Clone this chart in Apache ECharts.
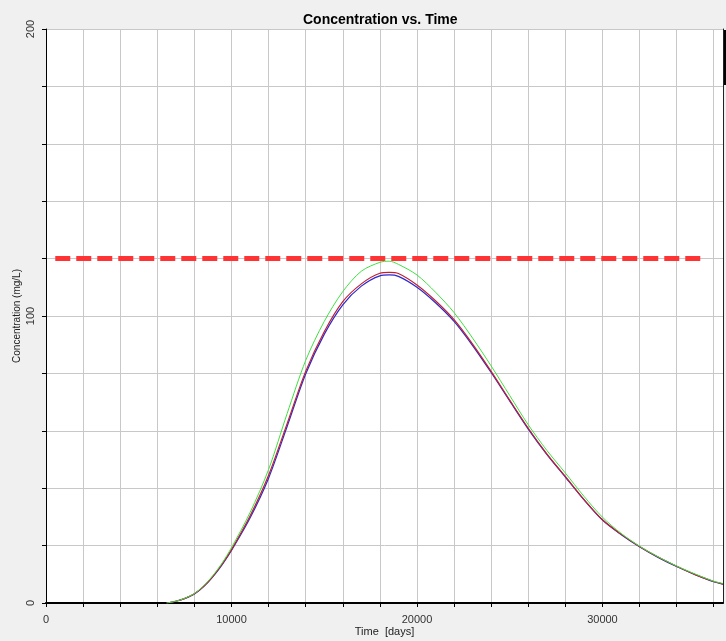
<!DOCTYPE html>
<html>
<head>
<meta charset="utf-8">
<script src="https://cdn.jsdelivr.net/npm/echarts@6/dist/echarts.min.js"></script>
<style>
    html, body { margin: 0; padding: 0; background: #f0f0f0; }
    #chart { width: 726px; height: 641px; }
</style>
</head>
<body>
<div id="chart"></div>
<script>
    // time axis (days)
    var times = [6500, 7000, 7500, 8000, 8500, 9000, 9500, 10000, 11000, 12000, 13000, 14000, 15000,
        16000, 17000, 18000, 18500, 19000, 20000, 21000, 22000, 23000, 24000, 25000, 26000, 27000, 28000,
        29000, 30000, 31000, 32000, 33000, 34000, 35000, 36000, 36500];
    // concentration (mg/L) for each run
    var blueVals = [0, 0.6, 1.6, 3.1, 5.7, 9.2, 13.4, 18.3, 29.6, 43.5, 61.5, 79.8, 93.6,
        103.9, 110.4, 114.0, 114.3, 113.8, 110.0, 104.6, 98.1, 89.7, 80.3, 70.4, 60.6, 51.8, 43.9,
        36.0, 28.9, 23.9, 19.6, 15.9, 12.7, 9.9, 7.4, 6.6];
    var redVals = [0, 0.6, 1.6, 3.2, 5.8, 9.3, 13.6, 18.6, 30.3, 44.5, 62.5, 80.7, 94.5,
        105.0, 111.2, 114.9, 115.2, 114.8, 110.8, 105.3, 98.7, 90.2, 80.7, 70.7, 60.9, 52.0, 44.1,
        36.1, 29.0, 24.0, 19.7, 16.0, 12.8, 9.9, 7.5, 6.6];
    var greenVals = [0, 0.6, 1.7, 3.3, 6.0, 9.6, 14.0, 19.3, 31.5, 46.5, 66.0, 84.5, 98.1,
        108.5, 115.6, 118.7, 119.1, 118.0, 114.3, 108.3, 101.2, 92.3, 82.6, 72.3, 62.1, 53.2, 45.3,
        37.2, 29.9, 24.3, 19.8, 16.1, 12.9, 10.1, 7.6, 6.8];
    // limit line
    var limitTimes = [500, 35300];
    var limitValue = 120;

    var xTickLabels = [0, 10000, 20000, 30000];
    var yTickLabels = [0, 100, 200];

    function pairs(xs, ys) {
        var out = [];
        for (var i = 0; i < xs.length; i++) {
            out.push([xs[i], ys[i]]);
        }
        return out;
    }

    var font = "'Liberation Sans', Arial, sans-serif";

    var chart = echarts.init(document.getElementById('chart'));
    var option = {
        animation: false,
        backgroundColor: '#f0f0f0',
        textStyle: {fontFamily: font},
        title: {
            text: 'Concentration vs. Time',
            left: 298,
            top: 8,
            textStyle: {fontFamily: font, fontSize: 14, fontWeight: 'bold', color: '#000'}
        },
        grid: {
            left: 46,
            right: 3,
            top: 29,
            bottom: 38,
            outerBoundsMode: 'none',
            containLabel: false,
            show: true,
            backgroundColor: '#fff',
            borderWidth: 0
        },
        xAxis: {
            type: 'value',
            min: 0,
            max: 36500,
            interval: 2000,
            name: 'Time  [days]',
            nameLocation: 'middle',
            nameGap: 23,
            nameMoveOverlap: false,
            nameTextStyle: {fontSize: 11, color: '#222', fontFamily: font},
            axisLine: {show: true, onZero: false, lineStyle: {color: '#000', width: 2}},
            axisTick: {show: true, length: 4, lineStyle: {color: '#000'}},
            axisLabel: {
                margin: 11,
                fontSize: 11,
                color: '#333',
                fontFamily: font,
                showMaxLabel: false,
                formatter: function (v) {
                    return xTickLabels.indexOf(v) >= 0 ? String(v) : '';
                }
            },
            splitLine: {show: true, lineStyle: {color: '#c8c8c8', width: 1}}
        },
        yAxis: [{
            type: 'value',
            min: 0,
            max: 200,
            interval: 20,
            name: 'Concentration (mg/L)',
            nameLocation: 'middle',
            nameGap: 24,
            nameMoveOverlap: false,
            nameRotate: 90,
            nameTextStyle: {fontSize: 10, color: '#222', fontFamily: font},
            axisLine: {show: true, lineStyle: {color: '#000', width: 1}},
            axisTick: {show: true, length: 4, lineStyle: {color: '#000'}},
            axisLabel: {
                rotate: 90,
                margin: 10,
                fontSize: 11,
                color: '#333',
                fontFamily: font,
                formatter: function (v) {
                    return yTickLabels.indexOf(v) >= 0 ? String(v) : '';
                }
            },
            splitLine: {show: true, lineStyle: {color: '#c8c8c8', width: 1}}
        }, {
            type: 'value',
            position: 'right',
            min: 0,
            max: 200,
            axisLine: {show: true, lineStyle: {color: '#222', width: 1}},
            axisTick: {show: false},
            axisLabel: {show: false},
            splitLine: {show: false}
        }],
        graphic: [{
            type: 'rect',
            right: 0,
            top: 30,
            shape: {width: 3, height: 55},
            style: {fill: '#000'}
        }],
        series: [
            {
                name: 'limit',
                type: 'line',
                showSymbol: false,
                data: pairs(limitTimes, [limitValue, limitValue]),
                lineStyle: {color: '#ff3333', width: 5, type: [15, 6]},
                z: 1
            },
            {
                name: 'blue',
                type: 'line',
                showSymbol: false,
                smooth: 0.3,
                data: pairs(times, blueVals),
                lineStyle: {color: '#2a2ad0', width: 1.2},
                z: 2
            },
            {
                name: 'red',
                type: 'line',
                showSymbol: false,
                smooth: 0.3,
                data: pairs(times, redVals),
                lineStyle: {color: '#c02030', width: 1.2},
                z: 3
            },
            {
                name: 'green',
                type: 'line',
                showSymbol: false,
                smooth: 0.3,
                data: pairs(times, greenVals),
                lineStyle: {color: '#40e040', width: 1},
                z: 4
            }
        ]
    };
    chart.setOption(option);
</script>
</body>
</html>
